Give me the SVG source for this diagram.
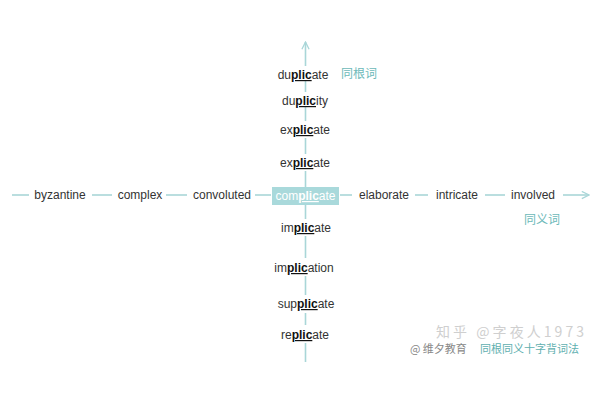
<svg xmlns="http://www.w3.org/2000/svg" width="600" height="400" viewBox="0 0 600 400">
<defs>
<style>
.w{font-family:"Liberation Sans",Arial,sans-serif;font-size:12px;fill:#333;text-anchor:middle}
.b{font-weight:bold;fill:#111;text-decoration:underline}
.cn{font-family:"Noto Sans CJK SC",sans-serif;font-size:12px;fill:#6cb9b9;text-anchor:middle}
.ln{stroke:#a9d6d8;stroke-width:1.6;fill:none}
.wm{font-family:"Noto Sans CJK SC",sans-serif}
</style>
<marker id="ah" viewBox="0 0 10 10" refX="9" refY="5" markerWidth="9" markerHeight="9" markerUnits="userSpaceOnUse" orient="auto">
<polyline points="1,1 9,5 1,9" fill="none" stroke="#a9d6d8" stroke-width="1.4"/>
</marker>
</defs>
<rect width="600" height="400" fill="#fff"/>
<g id="connectors" class="ln">
<line x1="12" y1="195" x2="29" y2="195"/>
<line x1="92" y1="195" x2="112" y2="195"/>
<line x1="166" y1="195" x2="187" y2="195"/>
<line x1="255" y1="195" x2="271" y2="195"/>
<line x1="340" y1="195" x2="352" y2="195"/>
<line x1="415" y1="195" x2="428" y2="195"/>
<line x1="485" y1="195" x2="505" y2="195"/>
<line x1="563" y1="195" x2="589" y2="195" marker-end="url(#ah)"/>
<line x1="305.5" y1="66" x2="305.5" y2="42" marker-end="url(#ah)"/>
<line x1="305.5" y1="81" x2="305.5" y2="92"/>
<line x1="305.5" y1="107" x2="305.5" y2="121"/>
<line x1="305.5" y1="138" x2="305.5" y2="154"/>
<line x1="305.5" y1="171" x2="305.5" y2="187"/>
<line x1="305.5" y1="205" x2="305.5" y2="219"/>
<line x1="305.5" y1="236" x2="305.5" y2="258"/>
<line x1="305.5" y1="276" x2="305.5" y2="295"/>
<line x1="305.5" y1="313" x2="305.5" y2="325"/>
<line x1="305.5" y1="343" x2="305.5" y2="362"/>
</g>
<g id="byzantine"><text class="w" x="60" y="199">byzantine</text></g>
<g id="complex"><text class="w" x="140" y="199">complex</text></g>
<g id="convoluted"><text class="w" x="222" y="199">convoluted</text></g>
<g id="complicate">
<rect x="272" y="187" width="67" height="18" fill="#a9d9db"/>
<text class="w" x="305.5" y="200" style="fill:#fff">com<tspan style="font-weight:bold;fill:#fff;text-decoration:underline">plic</tspan>ate</text>
</g>
<g id="elaborate"><text class="w" x="384" y="199">elaborate</text></g>
<g id="intricate"><text class="w" x="457" y="199">intricate</text></g>
<g id="involved"><text class="w" x="533" y="199">involved</text></g>
<g id="duplicate"><text class="w" x="303" y="79">du<tspan class="b">plic</tspan>ate</text></g>
<g id="duplicity"><text class="w" x="305" y="105">du<tspan class="b">plic</tspan>ity</text></g>
<g id="explicate1"><text class="w" x="305" y="134">ex<tspan class="b">plic</tspan>ate</text></g>
<g id="explicate2"><text class="w" x="305" y="167">ex<tspan class="b">plic</tspan>ate</text></g>
<g id="implicate"><text class="w" x="306" y="232">im<tspan class="b">plic</tspan>ate</text></g>
<g id="implication"><text class="w" x="304" y="272">im<tspan class="b">plic</tspan>ation</text></g>
<g id="supplicate"><text class="w" x="306" y="308">sup<tspan class="b">plic</tspan>ate</text></g>
<g id="replicate"><text class="w" x="305" y="339">re<tspan class="b">plic</tspan>ate</text></g>
<g id="label-root"><text class="cn" x="359" y="78">同根词</text></g>
<g id="label-syn"><text class="cn" x="542" y="224">同义词</text></g>
<g id="watermark">
<text class="wm" x="436" y="337" font-size="14" fill="#cfcfcf" textLength="148" lengthAdjust="spacing">知乎 @字夜人1973</text>
<text class="wm" x="410" y="353" font-size="11" fill="#888">@ 维夕教育</text>
<text class="wm" x="480" y="353" font-size="11" fill="#5fb0b0">同根同义十字背词法</text>
</g>
</svg>
